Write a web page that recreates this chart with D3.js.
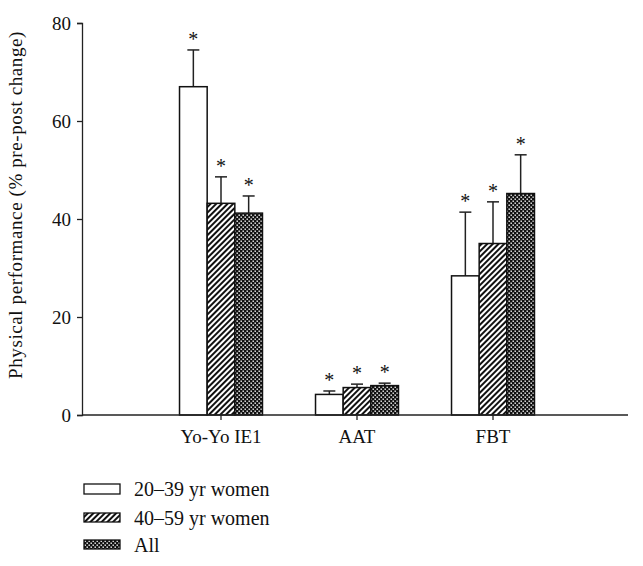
<!DOCTYPE html>
<html><head><meta charset="utf-8">
<script src="https://d3js.org/d3.v7.min.js"></script>
<style>body{margin:0;background:#fff}svg{display:block}text{font-family:"Liberation Serif","Times New Roman",serif;fill:#111}</style>
</head><body>
<script>
const categories = ["Yo-Yo IE1", "AAT", "FBT"];
const seriesNames = ["20\u201339 yr women", "40\u201359 yr women", "All"];
const means = [
  [67.0, 4.2, 28.4],
  [43.2, 5.6, 35.0],
  [41.2, 6.0, 45.2]
];
const errs = [
  [7.5, 0.7, 13.0],
  [5.4, 0.7, 8.5],
  [3.5, 0.5, 7.9]
];
const yTicks = [0, 20, 40, 60, 80];

const W = 643, H = 566;
const svg = d3.select("body").append("svg").attr("width", W).attr("height", H);
const defs = svg.append("defs");
const hatch = defs.append("pattern").attr("id","hatch").attr("patternUnits","userSpaceOnUse")
  .attr("width",4).attr("height",4).attr("patternTransform","rotate(45)");
hatch.append("rect").attr("width",4).attr("height",4).attr("fill","#fff");
hatch.append("rect").attr("width",2).attr("height",4).attr("fill","#111");
const dots = defs.append("pattern").attr("id","dots").attr("patternUnits","userSpaceOnUse")
  .attr("width",4).attr("height",4);
dots.append("rect").attr("width",4).attr("height",4).attr("fill","#111");
dots.append("rect").attr("x",0.5).attr("y",0.5).attr("width",1.4).attr("height",1.4).attr("fill","#fff");
dots.append("rect").attr("x",2.5).attr("y",2.5).attr("width",1.4).attr("height",1.4).attr("fill","#fff");
const fills = ["#fff", "url(#hatch)", "url(#dots)"];

const y = d3.scaleLinear().domain([0, 80]).range([415, 23]);
const x = d3.scaleBand().domain(categories).range([153, 561]).paddingInner(0.39).paddingOuter(0.195);
const xs = d3.scaleBand().domain(d3.range(3)).range([0, x.bandwidth()]);

// axes
const yAxis = svg.append("g").attr("transform","translate(82,0)")
  .call(d3.axisLeft(y).tickValues(yTicks).tickSize(5).tickPadding(6));
yAxis.selectAll("text").style("font-size","19px").attr("font-family",null);
yAxis.select(".domain").attr("stroke","#222").attr("stroke-width",1.3);
yAxis.selectAll(".tick line").attr("stroke","#222").attr("stroke-width",1.3);

// bars
categories.forEach((c, ci) => {
  for (let s = 0; s < 3; s++) {
    const bx = x(c) + xs(s), bw = xs.bandwidth();
    const cx = bx + bw / 2;
    const v = means[s][ci], e = errs[s][ci];
    svg.append("line").attr("x1",cx).attr("x2",cx).attr("y1",y(v)).attr("y2",y(v+e))
      .attr("stroke","#222").attr("stroke-width",1.5);
    svg.append("line").attr("x1",cx-6).attr("x2",cx+6).attr("y1",y(v+e)).attr("y2",y(v+e))
      .attr("stroke","#222").attr("stroke-width",1.5);
    svg.append("rect").attr("x",bx).attr("y",y(v)).attr("width",bw).attr("height",y(0)-y(v))
      .attr("fill",fills[s]).attr("stroke","#111").attr("stroke-width",1.5);
    svg.append("text").attr("x",cx).attr("y",y(v+e)-4).attr("text-anchor","middle")
      .style("font-size","20px").text("*");
  }
});

const xAxis = svg.append("g").attr("transform","translate(0,415)")
  .call(d3.axisBottom(x).tickSize(5).tickPadding(10).tickSizeOuter(0));
xAxis.select(".domain").attr("d","M82,0H628").attr("stroke","#222").attr("stroke-width",1.3);
xAxis.selectAll(".tick line").attr("stroke","#222").attr("stroke-width",1.3);
xAxis.selectAll("text").style("font-size","19px").attr("font-family",null);

svg.append("text").attr("transform","translate(22,205) rotate(-90)").attr("text-anchor","middle")
  .style("font-size","19px").style("letter-spacing","0.6px").text("Physical performance (% pre-post change)");

// legend
const legY = [484, 513, 540];
seriesNames.forEach((n, i) => {
  svg.append("rect").attr("x",84).attr("y",legY[i]).attr("width",36).attr("height",i===0?10:9)
    .attr("fill",fills[i]).attr("stroke","#111").attr("stroke-width",1.3);
  svg.append("text").attr("x",134).attr("y",legY[i]+12).style("font-size","20px").text(n);
});
</script>
</body></html>
